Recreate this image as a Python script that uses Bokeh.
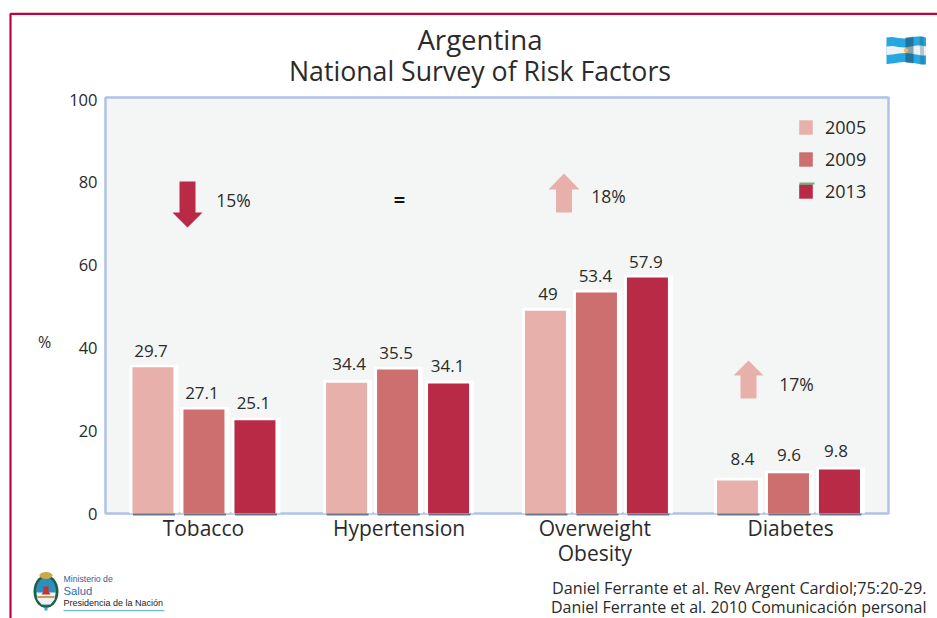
import math
from bokeh.embed import file_html
from bokeh.layouts import column
from bokeh.resources import INLINE
from bokeh.plotting import figure
from bokeh.models import (FactorRange, Range1d, ColumnDataSource, FixedTicker, Legend, LegendItem)
from bokeh.core.properties import value

# ---------- data ----------
categories = ["Tobacco", "Hypertension", "Overweight\nObesity", "Diabetes"]
years = ["2005", "2009", "2013"]
drawn_2005 = [35.3, 31.6, 49.0, 8.0]
drawn_2009 = [25.1, 34.8, 53.4, 9.7]
drawn_2013 = [22.5, 31.4, 57.0, 10.6]
labels_2005 = ["29.7", "34.4", "49", "8.4"]
labels_2009 = ["27.1", "35.5", "53.4", "9.6"]
labels_2013 = ["25.1", "34.1", "57.9", "9.8"]
y_ticks = [0, 20, 40, 60, 80, 100]
change_labels = ["15%", "=", "18%", "17%"]

# ---------- style / layout ----------
FONT = "Open Sans"
INK = "#2b2a2b"
colors = ["#e7b0ab", "#cd6f6f", "#b82a46"]
group_shift = [0.003, -0.008, 0.008, -0.011]
series_shift = [-0.2605, 0.0, 0.2605]
bar_width = 0.2095
label_dx = [[-2, 2.5, 2.5, 5], [-2, -1.5, -1, 0.5], [-1.5, -1, -1.5, -3.5]]
label_dy = [[-16, -19, -17, -21], [-17, -16, -16, -18], [-17, -18, -16, -19]]
FL, FR, FT, FB = 105, 888, 97, 513   # frame in page pixels
W, H = 937, 618
PX_Y = 4.14
UNIT_X = (FR - FL) / 4

p = figure(width=W, height=H, output_backend="svg", toolbar_location=None,
           x_range=FactorRange(factors=categories, factor_padding=0, range_padding=0),
           y_range=Range1d(0, (FB - FT) / PX_Y),
           min_border_left=FL, min_border_right=W - FR, min_border_top=FT, min_border_bottom=H - FB,
           background_fill_color="#f4f6f5", border_fill_color="white",
           outline_line_color="#afc3e6", outline_line_width=2.5, frame_align=False)
p.grid.visible = False

p.yaxis.ticker = FixedTicker(ticks=y_ticks)
p.yaxis.axis_line_color = None
p.yaxis.major_tick_line_color = None
p.yaxis.minor_tick_line_color = None
p.yaxis.major_label_standoff = 2
p.yaxis.major_label_text_font = FONT
p.yaxis.major_label_text_font_size = "16.5px"
p.yaxis.major_label_text_color = INK

p.xaxis.axis_line_color = None
p.xaxis.major_tick_line_color = None
p.xaxis.minor_tick_line_color = None
p.xaxis.major_label_standoff = -6
p.xaxis.major_label_text_font = FONT
p.xaxis.major_label_text_font_size = "21px"
p.xaxis.major_label_text_color = INK
p.xaxis.major_label_text_line_height = 0.9
p.xaxis.major_label_orientation = "horizontal"

def cx(px):
    return (px - FL) / UNIT_X

def cy(py):
    return (FB - py) / PX_Y

# bars
drawn = [drawn_2005, drawn_2009, drawn_2013]
texts = [labels_2005, labels_2009, labels_2013]
legend_items = []
for s, year in enumerate(years):
    xh = [(c, group_shift[i] + series_shift[s] + 0.005) for i, c in enumerate(categories)]
    p.vbar(x=xh, top=[v + 0.65 for v in drawn[s]], width=0.25, bottom=0, fill_color="white", line_color=None)
for s, year in enumerate(years):
    xs = [(c, group_shift[i] + series_shift[s]) for i, c in enumerate(categories)]
    src = ColumnDataSource(dict(x=xs, top=drawn[s], label=texts[s], dx=label_dx[s], dy=label_dy[s]))
    r = p.vbar(x="x", top="top", width=bar_width, bottom=0, source=src, fill_color=colors[s], line_color=None)
    legend_items.append(LegendItem(label=year, renderers=[r]))
    p.text(x="x", y="top", text="label", source=src, x_offset="dx", y_offset="dy",
           text_align="center", text_baseline="middle", text_font=value(FONT),
           text_font_size="17px", text_color=INK)

# change arrows
def arrow(px, tail, base, tip, half_shaft, half_head, color):
    xs = [px - half_shaft, px + half_shaft, px + half_shaft, px + half_head, px, px - half_head, px - half_shaft]
    ys = [tail, tail, base, base, tip, base, base]
    p.patch([cx(v) for v in xs], [cy(v) for v in ys], fill_color=color, line_color=None)

arrow(187, 181, 212, 227, 8, 15, colors[2])
arrow(563.5, 212, 189, 173, 8, 15.5, colors[0])
arrow(748, 398, 375, 360, 8, 15, colors[0])

change_x = [233, 399, 608, 796]
change_y = [199, 199, 195, 383]
for t, xp, yp in zip(change_labels, change_x, change_y):
    p.text(x=[cx(xp)], y=[cy(yp)], text=[t], text_align="center", text_baseline="middle",
           text_font=value(FONT), text_font_size="20px" if t == "=" else "17.5px",
           text_color="#111111" if t == "=" else INK,
           text_font_style="bold" if t == "=" else "normal")

legend = Legend(items=legend_items, location=(692, 310), padding=0, margin=0, spacing=8,
                glyph_width=17, glyph_height=18, label_height=18, label_standoff=11,
                background_fill_alpha=0, border_line_color=None,
                label_text_font=FONT, label_text_font_size="18px", label_text_color=INK)
p.add_layout(legend, "center")

# ---------- transparent top layer for what lies outside the chart frame, in page pixels ----------
ov = figure(width=W, height=H, output_backend="svg", toolbar_location=None,
            x_range=Range1d(0, W), y_range=Range1d(H, 0), min_border=0,
            background_fill_alpha=0, border_fill_alpha=0, outline_line_color=None,
            x_axis_location=None, y_axis_location=None, frame_align=False)
ov.grid.visible = False
ov.margin = (-H, 0, 0, 0)

def text(x, y, t, size, color=INK, font=FONT, align="left"):
    ov.text(x=[x], y=[y], text=[t], text_font=value(font), text_font_size=size, text_color=color,
            text_align=align, text_baseline="middle")

def poly(xs, ys, fill, alpha=1.0):
    ov.patch(list(xs), list(ys), fill_color=fill, fill_alpha=alpha, line_color=None)

def oval(x0, y0, rx, ry, n=28):
    return ([x0 + rx * math.cos(2 * math.pi * k / n) for k in range(n)],
            [y0 + ry * math.sin(2 * math.pi * k / n) for k in range(n)])

# soft shadow under each bar
for s in range(3):
    for i in range(4):
        px = FL + (i + 0.5 + group_shift[i] + series_shift[s]) * UNIT_X
        ov.quad(left=[px - 20], right=[px + 22], top=[513], bottom=[515], fill_color="#5a6478",
                fill_alpha=0.85, line_color=None)

# green edge on the 2013 legend swatch
ov.quad(left=[799], right=[814], top=[182], bottom=[184], fill_color="#62b97a", line_color=None)

# red border
ov.line([10, 10, W], [H, 13.3, 13.3], line_color="#c2003b", line_width=2.2)

# titles
text(479.5, 38, "Argentina", "27.6px", align="center")
text(479.5, 70, "National Survey of Risk Factors", "26.7px", align="center")
text(44, 341, "%", "16px", align="center")
text(926, 587.5, "Daniel Ferrante et al. Rev Argent Cardiol;75:20-29.", "16.2px", align="right")
text(926, 606.5, "Daniel Ferrante et al. 2010 Comunicación personal", "16px", align="right")

# flag
top = [37, 36.5, 37.5, 38, 37, 36, 36, 37]
bot = [63.5, 63, 62, 61.5, 62, 63, 64, 64]
xf = [886, 892, 898, 904, 910, 916, 921, 925.5]
poly(xf + xf[::-1], top + bot[::-1], "#27a7df")
wt = [t + 9 for t in top]
wb = [b - 9 for b in bot]
poly(xf + xf[::-1], wt + wb[::-1], "#eef2f4")
poly([905, 913, 913, 905], [37, 36, 63, 62], "#123a55", alpha=0.45)
poly([919, 923, 924, 920], [36, 36, 64, 64], "#123a55", alpha=0.25)
ox, oy = oval(905.5, 50, 2.2, 2.2, 14)
poly(ox, oy, "#e6c04a")

# emblem
ox, oy = oval(45.5, 591, 12.5, 16.5)
poly(ox, oy, "#1f5f45")
ox, oy = oval(45.5, 591, 10, 14)
poly(ox, oy, "#2d8ec0")
poly([36, 55, 54, 50, 41, 37], [592, 592, 599, 604, 604, 599], "#f0f2f0")
poly([37, 54, 54, 37], [595.5, 595.5, 597.5, 597.5], "#c99a63")
poly([43, 48, 48, 50, 41, 43], [586, 586, 591, 594, 594, 591], "#c8322c")
ox, oy = oval(45.5, 575, 6.5, 3.5, 16)
poly(ox, oy, "#c9a94a")
poly([44, 47, 47, 44], [607, 607, 610, 610], "#3aa0cf")

# ministry text
text(63, 578.5, "Ministerio de", "8.7px", "#2f5f95", "Liberation Sans")
text(63, 590, "Salud", "11.3px", "#2e6da8", "Liberation Sans")
text(63, 602, "Presidencia de la Nación", "9px", "#222222", "Liberation Sans")
poly([63, 164, 164, 63], [609.5, 609.5, 610.7, 610.7], "#6fb9dd")

open("out.html", "w").write(file_html(column(p, ov), INLINE))
